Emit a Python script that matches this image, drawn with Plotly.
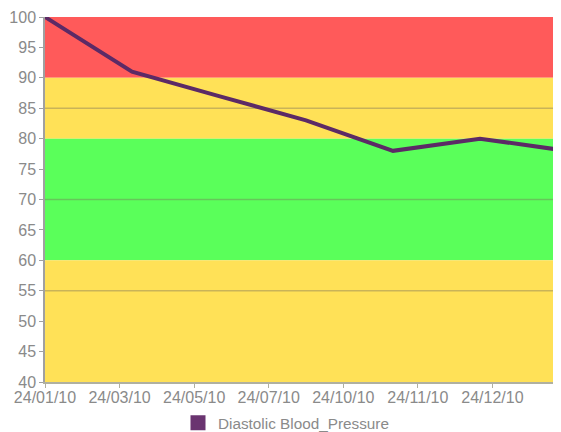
import plotly.graph_objects as go

# ---- data ----
reading_index = [0, 1, 2, 3, 4, 5, 6]
diastolic = [100, 91, 87, 83, 78, 80, 78]
tick_labels = ["24/01/10", "24/03/10", "24/05/10", "24/07/10", "24/10/10", "24/11/10", "24/12/10"]
band_low = [90, 80, 60, 40]
band_high = [100, 90, 80, 60]
grid_values = [55, 70, 85]
series_name = "Diastolic Blood_Pressure"

# ---- styles ----
band_colors = ["#FF5A5A", "#FFE157", "#5AFF5A", "#FFE157"]
line_color = "#5C2A66"
axis_gray = "#8a8a8a"
font_family = "Liberation Sans, Arial, sans-serif"

n_ticks = len(tick_labels)
tick_step = (len(reading_index) - 1) / (n_ticks)
tickvals = [i * tick_step for i in range(n_ticks)]

fig = go.Figure()
fig.add_trace(go.Scatter(
    x=reading_index, y=diastolic, mode="lines",
    line=dict(color=line_color, width=4),
    showlegend=False, hoverinfo="x+y",
))
fig.add_trace(go.Scatter(
    x=[None], y=[None], mode="markers", name=series_name,
    marker=dict(symbol="square", size=15, color="#6A3470"),
))

shapes = []
for lo, hi, c in zip(band_low, band_high, band_colors):
    shapes.append(dict(type="rect", xref="paper", yref="y", x0=0, x1=1, y0=lo, y1=hi,
                       fillcolor=c, line=dict(width=0), layer="below"))
for g in grid_values:
    shapes.append(dict(type="line", xref="paper", yref="y", x0=0, x1=1, y0=g, y1=g,
                       line=dict(color="rgba(120,110,90,0.4)", width=1.5), layer="below"))

fig.update_layout(
    width=553, height=424,
    margin=dict(l=37, r=0, t=9, b=50, autoexpand=False),
    paper_bgcolor="white", plot_bgcolor="white",
    shapes=shapes,
    font=dict(family=font_family, color=axis_gray, size=16),
    legend=dict(orientation="h", x=(286 - 45) / 516, xanchor="center", y=-0.112, yanchor="middle",
                font=dict(size=15.3, color=axis_gray), itemwidth=30),
    xaxis=dict(range=[0, 516 / 87], tickvals=tickvals, ticktext=tick_labels,
               showgrid=False, zeroline=False, showline=True, linecolor="#b0b0a0", linewidth=1.5,
               ticks="outside", ticklen=4, tickcolor="#b0b0a0", ticklabelstandoff=-4,
               tickfont=dict(size=16, color=axis_gray)),
    yaxis=dict(range=[40, 100], dtick=5, tick0=40, showgrid=False, zeroline=False,
               showline=True, linecolor="#a0a0a0", linewidth=1.5,
               ticks="outside", ticklen=4, tickcolor="#a0a0a0",
               tickfont=dict(size=16, color=axis_gray)),
)

fig.write_html("out.html")
